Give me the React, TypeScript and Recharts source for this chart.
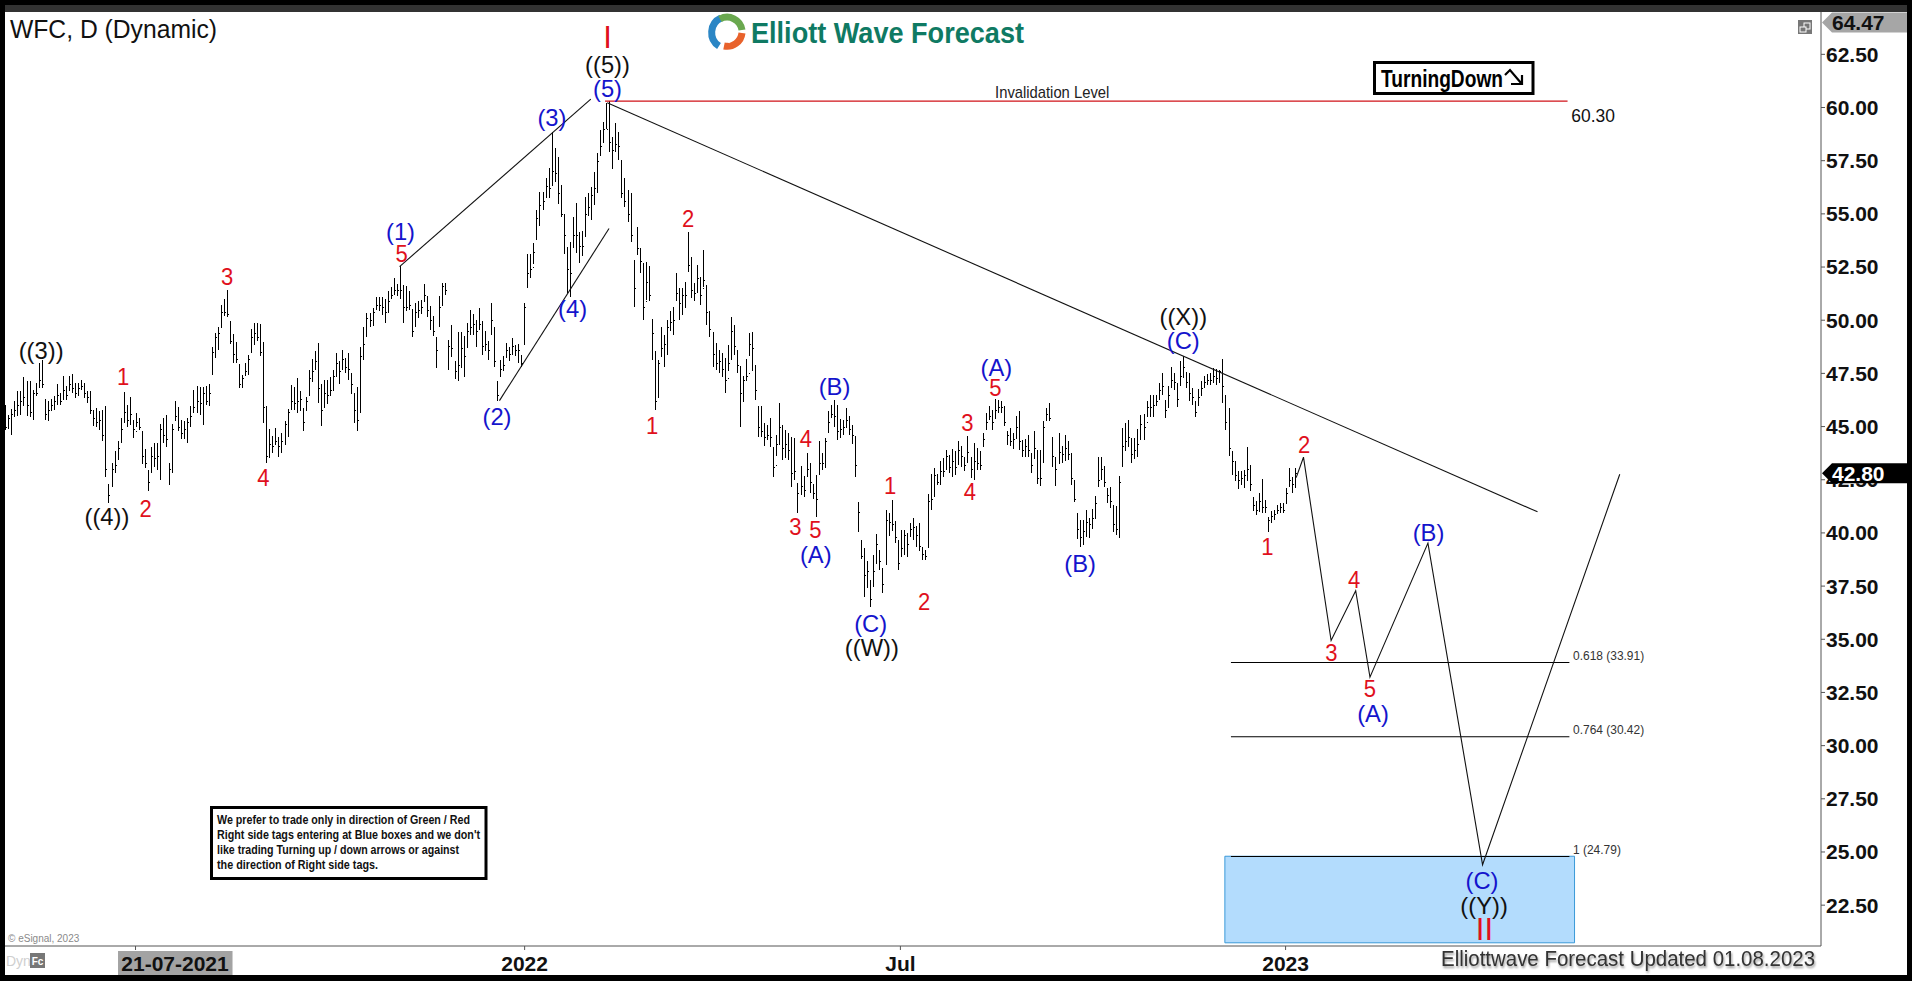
import React from "react";
import { ComposedChart, Bar, Line, XAxis, YAxis, ReferenceLine, ReferenceArea, ReferenceDot } from "recharts";

// daily bars
const highs = [
  46.02,45.55,45.82,46.21,46.65,46.65,47.32,47.12,47.12,46.73,
  47.07,47.98,48.11,46.29,46.18,46.29,46.45,47.01,46.57,47.36,
  46.89,47.36,47.47,47.07,47.07,47.17,47.04,46.65,46.65,45.79,
  45.87,45.71,45.79,45.98,42.31,43.28,43.83,44.3,45.4,46.62,
  46.02,46.38,45.32,45.63,45.4,44.8,43.94,42.97,44.06,44.22,
  44.22,45.13,45.4,45.55,43.28,45.13,46.18,45.9,45.32,45.24,
  45.4,45.99,46.73,46.89,46.85,46.85,46.89,47.01,
  48.75,49.41,49.7,50.73,51.0,51.43,
  49.97,49.36,48.97,47.95,47.43,48.01,48.37,49.58,49.86,49.86,
  49.83,48.97,45.97,44.88,44.56,44.92,44.53,44.69,45.24,45.82,
  46.96,46.88,47.28,46.68,45.87,46.37,47.67,48.18,48.53,48.92,
  47.01,47.17,47.17,47.31,47.67,48.45,48.06,48.61,48.22,48.45,
  47.51,46.6,46.85,48.73,49.67,50.36,50.36,50.57,51.08,51.08,
  51.08,50.99,51.35,51.55,51.98,51.71,52.53,51.66,51.62,51.35,
  50.52,50.8,50.88,50.96,51.71,51.12,50.68,50.18,49.2,51.12,
  51.74,51.74,49.08,
  49.78,48.06,49.44,49.44,49.26,49.89,50.49,50.28,50.01,50.56,
  49.94,49.47,49.04,50.8,49.7,47.15,48.13,48.32,48.92,48.76,
  49.15,48.84,48.89,48.37,50.8,53.12,53.12,53.65,55.19,56.05,
  56.05,56.68,57.15,58.84,58.09,57.66,56.36,54.98,53.46,53.7,
  54.87,55.5,54.17,54.2,55.78,56.0,56.25,56.99,57.85,58.92,
  59.34,60.23,60.3,58.6,59.29,58.84,57.51,56.68,56.13,55.97,
  52.84,54.4,53.39,52.68,52.76,52.55,50.05,48.53,48.13,49.7,
  49.31,50.01,50.41,50.64,
  52.21,51.5,51.5,51.82,54.17,52.99,51.74,52.6,52.05,53.3,
  51.66,50.41,49.46,48.92,48.6,48.45,48.21,48.84,50.17,49.78,
  48.6,47.83,47.36,48.17,49.39,49.46,47.9,
  45.98,45.98,45.16,45.08,45.4,44.06,44.61,46.1,45.08,44.85,
  44.69,44.53,44.46,42.34,43.16,42.69,43.78,43.28,42.31,42.73,
  44.3,43.75,44.46,45.71,46.02,46.23,46.02,45.35,45.32,45.87,
  45.5,45.08,44.58,41.45,39.68,39.28,38.66,37.8,38.97,39.94,
  39.21,38.34,41.09,40.93,41.56,40.54,39.68,
  40.15,40.15,39.99,40.46,40.7,40.33,40.46,39.36,39.21,41.82,
  42.76,43.05,42.76,43.39,43.52,43.88,43.67,43.94,43.83,44.33,
  44.07,43.59,44.57,43.59,44.22,43.99,43.83,44.69,45.63,45.95,
  45.79,46.31,46.26,46.18,45.98,44.77,44.93,44.69,45.51,45.71,
  44.38,44.41,44.61,43.75,44.8,43.91,43.91,45.24,45.87,46.1,
  44.5,43.59,44.69,44.07,44.61,44.3,43.75,42.5,40.96,40.59,
  40.59,41.09,40.7,41.12,41.75,43.56,43.56,43.16,42.11,42.15,
  41.32,41.28,42.69,44.93,
  45.16,45.32,44.46,44.46,44.89,45.55,45.6,46.21,46.49,46.49,
  46.49,47.04,47.51,46.26,46.92,47.79,47.51,47.04,48.06,48.34,
  47.56,47.51,46.81,46.18,46.76,47.12,47.39,47.48,47.51,47.75,
  47.7,47.64,48.17,46.49,45.87,43.83,43.36,42.89,42.89,42.94,
  44.06,43.2,41.68,41.48,41.9,42.53,41.56,40.73,41.01,41.09,
  41.29,41.4,41.4,42.1,43.05,42.62,43.05,
];

const lows = [
  44.82,44.88,44.61,45.47,45.5,45.55,45.95,45.5,45.44,45.29,
  46.42,46.81,46.81,45.32,45.24,45.71,45.76,46.02,46.02,46.26,
  46.26,46.65,46.57,46.34,46.42,46.73,46.34,46.1,45.6,45.04,
  45.0,44.85,44.3,42.65,41.43,42.18,42.84,43.41,44.22,45.16,
  45.0,45.08,44.46,44.97,44.82,43.25,43.05,41.95,42.84,43.09,
  42.94,42.47,44.22,44.06,42.26,42.81,45.24,44.77,44.41,44.41,
  44.25,44.97,45.66,45.66,45.55,45.08,46.02,45.99,
  47.43,48.24,48.6,49.64,50.2,50.15,
  48.89,48.01,47.98,46.81,46.81,47.39,47.43,48.45,48.84,49.0,
  48.3,45.19,43.28,43.52,43.78,44.14,43.59,43.75,44.14,44.53,
  45.79,45.79,45.66,45.71,44.81,45.71,46.45,47.09,47.67,46.13,
  45.03,45.87,46.07,46.45,46.65,47.35,47.01,47.67,47.51,47.2,
  46.54,45.19,44.81,45.66,48.14,49.2,49.7,49.74,50.49,50.41,
  50.25,49.89,50.33,50.99,51.19,51.15,50.99,49.89,50.41,50.49,
  49.19,49.67,50.1,50.3,50.88,50.14,49.52,49.24,47.73,49.7,
  50.68,51.19,47.64,
  48.29,47.23,47.16,47.74,47.35,48.68,49.31,49.31,48.73,49.55,
  48.37,48.53,48.13,49.31,47.82,46.21,47.32,47.59,48.21,48.06,
  48.37,48.32,47.98,47.82,48.84,51.5,51.97,52.65,53.78,54.43,
  55.2,55.74,55.74,56.32,56.52,55.47,54.87,53.1,51.27,51.11,
  53.39,53.18,52.71,53.0,53.93,54.91,54.69,55.42,55.97,57.73,
  58.32,58.98,57.93,57.12,57.93,57.51,55.74,55.34,54.64,53.7,
  50.64,53.07,52.21,50.02,50.96,50.92,48.13,45.78,46.33,48.29,
  47.82,48.37,49.47,49.31,
  50.88,50.01,50.25,50.56,52.29,51.03,50.88,51.27,50.72,51.58,
  49.78,49.23,47.8,47.66,47.5,47.35,46.56,47.6,48.13,48.37,
  47.5,45.0,46.17,47.12,48.33,47.59,46.23,
  44.49,44.53,44.1,44.38,44.06,42.62,43.6,44.14,43.41,43.52,
  43.44,42.18,42.5,40.93,41.79,41.68,42.65,41.87,41.59,40.74,
  42.73,42.97,43.05,44.72,45.4,45.0,44.38,44.46,44.61,44.93,
  44.61,44.19,42.62,40.02,38.77,37.01,37.4,36.54,37.48,38.55,
  38.27,37.17,38.5,39.86,40.07,39.52,38.27,
  38.89,38.97,38.89,39.83,39.68,39.36,39.13,38.74,38.74,39.28,
  41.09,41.71,42.26,42.26,42.65,42.97,42.81,42.65,42.73,43.2,
  43.09,42.89,43.28,42.58,42.5,42.97,42.97,44.02,44.85,45.32,
  44.85,45.35,45.63,45.63,45.01,44.14,44.07,43.96,44.41,43.91,
  43.56,43.56,43.56,42.81,43.52,42.31,42.22,43.31,45.24,45.24,
  43.09,42.22,43.28,43.31,43.36,43.44,42.26,41.45,39.71,39.33,
  39.44,39.83,39.75,40.18,40.65,42.15,42.5,42.18,41.4,41.17,
  40.02,39.91,39.75,43.09,
  43.83,44.06,43.28,43.47,43.56,44.38,44.38,45.44,45.44,45.44,
  45.95,46.23,46.49,45.4,45.87,46.81,46.73,45.91,46.89,47.28,
  46.81,46.21,46.02,45.43,45.95,46.42,46.81,46.96,46.96,47.04,
  46.96,47.04,46.13,44.85,43.63,42.73,42.42,42.07,42.26,42.11,
  42.42,41.98,41.01,40.82,40.98,40.96,40.93,40.02,40.46,40.62,
  40.9,40.96,40.96,41.43,42.18,41.9,42.11,
];

const opens = [
  45.6,45.0,45.3,45.6,45.8,46.1,46.0,46.6,46.9,45.8,
  46.6,47.0,47.4,46.0,45.7,45.9,46.0,46.3,46.4,46.4,
  46.6,46.8,47.1,46.9,46.5,47.0,46.9,46.6,46.3,45.7,
  45.6,45.2,45.3,44.5,42.0,42.4,43.0,43.6,44.4,45.2,
  45.9,45.4,45.2,44.8,45.3,44.7,43.7,42.8,43.0,43.8,
  43.4,43.4,45.0,44.5,43.2,43.0,45.3,45.6,45.1,44.7,
  44.6,45.2,45.8,46.1,46.3,46.1,46.6,46.2,
  47.6,48.4,49.1,49.7,50.6,51.0,
  49.5,49.2,48.4,47.8,46.9,47.5,47.6,48.6,49.6,49.4,
  49.6,48.6,45.0,43.8,44.0,44.2,44.4,43.9,44.3,44.9,
  46.0,46.6,46.6,46.0,45.6,45.9,46.8,47.3,48.0,48.6,
  46.6,45.9,46.9,46.6,46.9,47.6,47.8,47.9,48.0,47.9,
  47.3,46.5,45.9,46.0,48.4,49.5,50.1,50.0,50.6,50.8,
  50.8,50.7,50.5,51.1,51.3,51.6,51.9,51.5,50.9,51.2,
  50.3,49.9,50.5,50.5,50.9,51.0,50.5,50.0,49.1,50.0,
  51.0,51.5,48.9,
  49.2,47.8,47.5,48.0,48.9,48.9,50.0,49.5,49.8,50.0,
  49.5,48.8,48.8,49.6,49.6,46.9,47.8,47.8,48.3,48.7,
  48.5,48.5,48.7,48.2,48.9,52.0,52.6,52.5,53.9,54.9,
  55.7,55.9,56.4,56.5,57.2,56.8,55.8,54.8,53.2,52.7,
  53.8,54.8,53.7,53.2,54.0,55.4,55.2,56.4,56.4,57.9,
  58.6,59.6,59.8,58.2,58.0,58.5,57.2,56.2,55.7,55.4,
  52.5,53.8,53.2,52.0,50.9,52.2,49.8,48.0,46.9,48.4,
  48.7,48.8,49.8,49.8,
  52.0,51.3,50.8,51.3,52.9,52.6,51.5,51.5,51.9,51.5,
  51.4,50.2,49.3,48.4,48.0,48.0,47.6,47.3,48.3,49.5,
  48.3,47.7,46.5,47.9,47.5,48.8,47.6,
  45.9,44.9,44.8,44.8,44.6,43.8,43.2,45.5,44.9,44.3,
  44.3,44.0,42.7,42.2,41.9,42.2,42.8,43.1,41.9,41.8,
  42.9,43.5,43.4,44.9,45.5,45.7,45.7,44.8,44.8,45.1,
  45.4,44.7,44.5,41.2,39.5,38.9,37.7,37.8,37.5,38.8,
  39.0,38.2,38.9,40.7,40.4,40.4,39.6,
  39.1,39.4,39.8,39.9,40.4,40.1,39.8,39.2,38.9,39.4,
  41.6,41.9,42.6,42.4,43.1,43.0,43.5,43.0,43.5,43.4,
  43.9,43.4,43.4,43.4,43.1,43.5,43.4,44.2,44.9,45.4,
  45.6,45.5,45.8,46.0,45.9,44.6,44.5,44.3,44.7,45.1,
  44.2,43.8,44.2,43.6,43.5,43.8,42.6,43.5,45.5,45.8,
  44.3,43.4,43.3,43.8,43.8,44.0,43.6,42.3,40.7,40.3,
  39.9,40.3,40.5,40.4,40.9,42.4,42.8,42.9,42.0,41.8,
  41.2,41.0,40.3,43.3,
  43.9,44.2,44.2,43.6,43.8,44.6,45.3,45.2,46.0,45.7,
  46.1,46.5,46.9,46.1,45.9,46.9,47.4,47.0,47.0,47.5,
  47.5,47.0,46.6,46.1,46.1,46.5,47.0,47.1,47.3,47.2,
  47.5,47.3,47.6,46.2,45.2,43.7,43.2,42.6,42.5,42.6,
  42.8,43.0,41.5,41.1,41.1,41.5,41.1,40.5,40.6,40.8,
  41.0,41.1,41.2,41.4,42.4,42.6,42.2,
];

const closes = [
  45.0,45.4,45.6,45.8,46.0,46.2,46.4,46.0,45.7,46.6,
  46.6,47.2,47.0,45.6,45.8,46.0,46.2,46.5,46.2,46.7,
  46.5,47.0,46.8,46.6,46.8,46.9,46.6,46.4,45.8,45.4,
  45.2,45.3,44.6,43.0,41.8,43.0,43.2,44.0,44.9,45.7,
  45.3,45.6,44.9,45.2,45.0,43.6,43.3,42.4,43.6,43.5,
  43.6,44.9,44.6,44.4,43.0,44.9,45.5,45.0,44.7,44.9,
  45.2,45.5,45.9,46.2,46.1,46.6,46.2,46.6,
  48.5,49.2,49.4,50.4,50.4,50.3,
  49.0,48.4,48.2,47.0,47.3,47.6,48.2,49.2,49.4,49.2,
  48.5,45.9,43.6,44.2,44.1,44.3,44.1,44.3,45.1,45.7,
  46.2,46.1,46.2,46.3,45.2,46.2,47.3,47.6,48.1,46.8,
  45.8,46.6,46.5,46.7,47.4,48.0,47.6,48.2,47.8,47.7,
  47.0,45.8,45.3,48.3,48.9,50.1,50.0,50.4,50.7,50.7,
  50.6,50.4,50.9,51.2,51.4,51.4,51.4,50.6,50.6,50.7,
  49.5,50.4,50.5,50.6,51.2,50.5,50.0,49.5,48.6,50.6,
  51.6,51.4,48.8,
  48.7,47.6,47.9,48.7,48.3,49.5,49.7,49.8,49.5,49.8,
  48.8,48.9,48.6,50.0,48.1,46.5,47.7,47.9,48.6,48.4,
  48.8,48.6,48.6,48.0,50.6,52.2,52.4,53.2,54.8,55.4,
  55.6,56.3,56.2,57.0,56.9,56.0,55.0,54.0,52.4,52.2,
  54.0,54.0,53.5,53.5,55.0,55.3,55.9,56.2,57.5,58.2,
  59.0,59.0,58.4,58.0,58.3,58.2,56.0,55.6,55.0,54.0,
  51.5,53.4,52.8,50.6,51.8,51.2,49.4,46.2,48.0,48.7,
  48.9,49.7,49.9,50.0,
  51.3,50.8,51.2,51.2,52.6,51.4,51.3,52.0,51.2,51.9,
  50.4,49.6,48.4,48.0,48.1,47.7,47.2,48.0,49.5,48.8,
  47.9,46.6,47.2,47.4,48.9,48.7,46.7,
  45.0,44.8,44.5,44.6,44.5,43.1,44.2,45.0,44.0,44.2,
  43.9,42.8,42.9,41.9,42.2,42.0,43.0,42.4,41.9,41.6,
  43.3,43.3,44.3,45.2,45.6,45.5,44.8,44.9,45.0,45.3,
  44.9,44.6,43.2,41.0,38.9,38.0,38.2,36.9,38.2,39.5,
  38.7,37.6,40.6,40.5,40.4,39.8,38.6,
  39.3,39.9,39.5,40.2,40.3,39.9,39.4,39.0,38.9,41.5,
  41.6,42.7,42.4,42.9,42.9,43.6,43.1,43.4,43.1,43.9,
  43.6,43.2,43.8,43.0,43.4,43.3,43.2,44.4,45.2,45.5,
  45.2,45.8,45.9,45.9,45.2,44.6,44.3,44.4,45.0,44.3,
  43.9,44.1,43.9,43.2,44.0,42.6,42.6,45.0,45.6,45.4,
  43.6,43.0,43.8,43.7,44.0,43.7,42.6,41.6,40.2,39.8,
  40.1,40.5,40.4,40.7,41.4,42.5,43.0,42.4,41.8,41.5,
  40.4,40.2,42.4,44.1,
  44.3,44.5,43.7,43.9,44.2,45.1,45.0,45.9,45.9,46.0,
  46.2,46.7,46.9,45.8,46.5,47.2,47.1,46.3,47.4,47.8,
  47.1,46.6,46.4,45.7,46.4,46.8,47.1,47.2,47.2,47.4,
  47.3,47.6,46.9,45.2,44.0,43.4,42.7,42.5,42.6,42.7,
  43.0,42.3,41.3,41.1,41.5,41.2,41.2,40.6,40.8,40.9,
  41.1,41.2,41.1,41.9,42.5,42.3,42.8,
];

const bars = highs.map((h, i) => ({ i, range: [lows[i], h], open: opens[i], close: closes[i] }));

const yTicks = [22.5, 25, 27.5, 30, 32.5, 35, 37.5, 40, 42.5, 45, 47.5, 50, 52.5, 55, 57.5, 60, 62.5];
const xTicks = [42.9, 171.1, 294.9, 421.8];
const xTickLabels = ["21-07-2021", "2022", "Jul", "2023"];

// wave labels: [text, bar position, price]
const blackLabels: [string, number, number][] = [
  ["((3))", 11.8, 48.56], ["((4))", 33.5, 40.77], ["((5))", 198.4, 62.04],
  ["((W))", 285.5, 34.6], ["((X))", 388.1, 50.16], ["((Y))", 487.2, 22.48],
];
const blueLabels: [string, number, number][] = [
  ["(1)", 130.2, 54.17], ["(2)", 162, 45.5], ["(3)", 180.1, 59.55], ["(4)", 186.9, 50.57], ["(5)", 198.4, 60.91],
  ["(A)", 267, 39.0], ["(B)", 273.2, 46.88], ["(C)", 285.1, 35.77], ["(A)", 326.5, 47.79], ["(B)", 354.1, 38.58],
  ["(C)", 388.1, 49.05], ["(A)", 450.6, 31.53], ["(B)", 468.9, 40.04], ["(C)", 486.5, 23.66],
];
const redLabels: [string, number, number][] = [
  ["1", 38.8, 47.35], ["2", 46.2, 41.13], ["3", 73.1, 52.05], ["4", 85, 42.6], ["5", 130.6, 53.12],
  ["1", 213.1, 45.05], ["2", 225, 54.77], ["4", 263.8, 44.42], ["3", 260.3, 40.3], ["5", 266.9, 40.13],
  ["1", 291.5, 42.2], ["2", 302.7, 36.77], ["3", 317, 45.16], ["4", 317.8, 41.94], ["5", 326.2, 46.85],
  ["1", 415.8, 39.33], ["2", 427.9, 44.14], ["3", 436.9, 34.38], ["4", 444.4, 37.79], ["5", 449.6, 32.66],
];
const cycleLabels: [string, number, number][] = [["I", 198.4, 63.3], ["II", 487.3, 21.36]];

// projected path and trend lines
const projection = [
  { i: 425.3, v: 42.6 }, { i: 427.7, v: 43.56 }, { i: 436.8, v: 34.94 }, { i: 444.9, v: 37.28 },
  { i: 449.6, v: 33.22 }, { i: 468.7, v: 39.52 }, { i: 486.7, v: 24.4 }, { i: 531.9, v: 42.76 },
];
const upperChannel = [{ i: 129.9, v: 52.52 }, { i: 192.9, v: 60.39 }];
const lowerChannel = [{ i: 162.8, v: 46.22 }, { i: 198.9, v: 54.31 }];
const downTrend = [{ i: 198.3, v: 60.22 }, { i: 504.8, v: 40.99 }];

const fibLevels: [string, number][] = [["0.618 (33.91)", 33.91], ["0.764 (30.42)", 30.42], ["1 (24.79)", 24.79]];
const invalidation = 60.3;
const boxBottom = 20.73;
const boxTop = 24.8;
const lastPrice = 42.8;
const topPrice = 64.47;

const AXIS_FONT = "'Liberation Sans', Arial, sans-serif";

function OhlcBar(props: any) {
  const { x, y, width, height, payload } = props;
  const [lo, hi] = payload.range;
  const perUnit = height / (hi - lo);
  const cx = Math.round(x + width / 2) + 0.5;
  const openY = Math.round(y + (hi - payload.open) * perUnit) + 0.5;
  const closeY = Math.round(y + (hi - payload.close) * perUnit) + 0.5;
  return (
    <g stroke="#000" strokeWidth={1} shapeRendering="crispEdges">
      <line x1={cx} x2={cx} y1={y} y2={y + height} />
      <line x1={cx - 1} x2={cx} y1={openY} y2={openY} />
      <line x1={cx} x2={cx + 1} y1={closeY} y2={closeY} />
    </g>
  );
}

// the source picture is squeezed sideways, so the letters are drawn a little narrow
function chartText(text: string, fill: string, size: number, anchor = "middle", squeeze = 1) {
  return (p: any) => (
    <text
      transform={`translate(${p.cx} ${p.cy}) scale(${squeeze} 1)`}
      fill={fill}
      fontSize={size}
      fontFamily={AXIS_FONT}
      textAnchor={anchor}
      dominantBaseline="central"
    >
      {text}
    </text>
  );
}

function XTick({ x, y, payload }: any) {
  const idx = xTicks.indexOf(payload.value);
  if (idx === 0) {
    return (
      <g>
        <rect x={x - 17.5} y={y} width={114.5} height={24} fill="#a3a3a3" />
        <text x={x + 39.5} y={y + 12} fontSize={21} fontWeight={700} fontFamily={AXIS_FONT} fill="#111" textAnchor="middle" dominantBaseline="central">
          {xTickLabels[0]}
        </text>
      </g>
    );
  }
  return (
    <text x={x} y={y + 12} fontSize={21} fontWeight={700} fontFamily={AXIS_FONT} fill="#111" textAnchor="middle" dominantBaseline="central">
      {xTickLabels[idx]}
    </text>
  );
}

const noteLines: [string, number][] = [
  ["We prefer to trade only in direction of Green / Red", 253],
  ["Right side tags entering at Blue boxes and we don't", 263],
  ["like trading Turning up / down arrows or against", 242],
  ["the direction of Right side tags.", 161],
];

// same scale as the y axis, the tags have to sit above the tick labels
const priceY = (v: number) => 12 + ((64.49 - v) * 934) / 43.91;

function PriceTag({ cy, text, bg, fg }: any) {
  return (
    <g>
      <polygon points={`1822,${cy} 1832,${cy - 10} 1907,${cy - 10} 1907,${cy + 10} 1832,${cy + 10}`} fill={bg} />
      <text x={1832} y={cy} fontSize={21} fontWeight={700} fill={fg} dominantBaseline="central">{text}</text>
    </g>
  );
}

function Overlay() {
  return (
    <svg width={1912} height={981} style={{ position: "absolute", left: 0, top: 0, pointerEvents: "none" }} fontFamily={AXIS_FONT}>
      <text x={10} y={29} fontSize={25} fill="#111" textLength={207} lengthAdjust="spacingAndGlyphs" dominantBaseline="central">WFC, D (Dynamic)</text>

      <g fill="none" strokeWidth={7}>
        <path d="M719 46 A16 16 0 0 1 721 18" stroke="#2b86c5" />
        <path d="M720 19 A15 15 0 0 1 742 30" stroke="#6aa84f" />
        <path d="M742 33 A15 15 0 0 1 724 46" stroke="#e8622c" />
        <path d="M726 24 Q736 28 728 34 Q722 38 730 42" stroke="#fff" strokeWidth={3} />
      </g>
      <text x={751} y={33} fontSize={29} fontWeight={700} fill="#0f7a63" textLength={273} lengthAdjust="spacingAndGlyphs" dominantBaseline="central">Elliott Wave Forecast</text>

      <rect x={1374.5} y={62.5} width={158.5} height={31} fill="#fff" stroke="#000" strokeWidth={3} />
      <text x={1381} y={78} fontSize={24} fontWeight={700} fill="#000" textLength={122} lengthAdjust="spacingAndGlyphs" dominantBaseline="central">TurningDown</text>
      <path d="M1505 75 L1510 70 L1521 83 M1522 75 V84 H1511" fill="none" stroke="#000" strokeWidth={2.2} />

      <rect x={1798} y={20} width={14} height={14} fill="#777" />
      <rect x={1804} y={23} width={6} height={6} fill="none" stroke="#fff" />
      <rect x={1800} y={27} width={6} height={5} fill="#777" stroke="#fff" />

      <rect x={211.5} y={807.5} width={274.5} height={71} fill="#fff" stroke="#000" strokeWidth={3} />
      {noteLines.map(([line, w], k) => (
        <text key={k} x={217} y={819.5 + k * 15.2} fontSize={12.5} fontWeight={700} fill="#111" textLength={w} lengthAdjust="spacingAndGlyphs" dominantBaseline="central">
          {line}
        </text>
      ))}

      <text x={8} y={938} fontSize={10} fill="#8a8a8a" dominantBaseline="central">© eSignal, 2023</text>
      <text x={6} y={961} fontSize={14} fill="#cfcfcf" dominantBaseline="central">Dyn</text>
      <rect x={30} y={953} width={15} height={15} fill="#777" />
      <text x={37.5} y={961} fontSize={10} fontWeight={700} fill="#fff" textAnchor="middle" dominantBaseline="central">Fc</text>

      <text x={1441} y={958} fontSize={22} fill="#333" textLength={374} lengthAdjust="spacingAndGlyphs" dominantBaseline="central" style={{ filter: "drop-shadow(1px 2px 1px #999)" }}>
        Elliottwave Forecast Updated 01.08.2023
      </text>

      <PriceTag cy={priceY(topPrice) + 10} text={topPrice.toFixed(2)} bg="#a6a6a6" fg="#111" />
      <PriceTag cy={priceY(lastPrice)} text={lastPrice.toFixed(2)} bg="#000" fg="#fff" />
    </svg>
  );
}

export default function App() {
  return (
    <div style={{ position: "absolute", left: 0, top: 0, width: 1912, height: 981, background: "#000", overflow: "hidden" }}>
      <div style={{ position: "absolute", left: 5, top: 5, width: 1902, height: 7, background: "#333" }} />
      <div style={{ position: "absolute", left: 5, top: 12, width: 1902, height: 963, background: "#fff" }} />
      <div style={{ position: "absolute", left: 0, top: 0 }}>
        <ComposedChart width={1912} height={981} data={bars} margin={{ top: 12, right: 5, bottom: 6, left: 5 }}>
          <XAxis
            dataKey="i"
            type="number"
            scale="linear"
            domain={[-0.1, 598.2]}
            allowDataOverflow
            ticks={xTicks}
            interval={0}
            height={29}
            tickSize={4}
            tickMargin={1}
            stroke="#555"
            tick={<XTick />}
          />
          <YAxis
            orientation="right"
            type="number"
            domain={[20.58, 64.49]}
            allowDataOverflow
            ticks={yTicks}
            interval={0}
            width={86}
            tickSize={4}
            tickMargin={1}
            stroke="#555"
            tickFormatter={(v: number) => v.toFixed(2)}
            tick={{ fontSize: 21, fontWeight: 700, fontFamily: AXIS_FONT, fill: "#111" }}
          />

          <ReferenceArea x1={401.8} x2={517} y1={boxBottom} y2={boxTop} fill="#b3dcfd" fillOpacity={1} stroke="#3a99d8" strokeWidth={1} ifOverflow="visible" />

          {fibLevels.map(([name, level]) => (
            <ReferenceLine key={name} segment={[{ x: 403.8, y: level }, { x: 515.3, y: level }]} stroke="#000" strokeWidth={1.1} ifOverflow="visible" />
          ))}
          <ReferenceLine segment={[{ x: 197.6, y: invalidation }, { x: 514.7, y: invalidation }]} stroke="#d01218" strokeWidth={1.1} ifOverflow="visible" />

          <Bar dataKey="range" barSize={1} shape={<OhlcBar />} isAnimationActive={false} />

          <Line data={upperChannel} dataKey="v" stroke="#111" strokeWidth={1.1} dot={false} activeDot={false} isAnimationActive={false} />
          <Line data={lowerChannel} dataKey="v" stroke="#111" strokeWidth={1.1} dot={false} activeDot={false} isAnimationActive={false} />
          <Line data={downTrend} dataKey="v" stroke="#111" strokeWidth={1.1} dot={false} activeDot={false} isAnimationActive={false} />
          <Line data={projection} dataKey="v" stroke="#111" strokeWidth={1.1} dot={false} activeDot={false} isAnimationActive={false} />

          {blackLabels.map(([t, i, v], k) => (
            <ReferenceDot key={`k${k}`} x={i} y={v} r={0} ifOverflow="visible" shape={chartText(t, "#111", 24.5, "middle", 0.97)} />
          ))}
          {blueLabels.map(([t, i, v], k) => (
            <ReferenceDot key={`b${k}`} x={i} y={v} r={0} ifOverflow="visible" shape={chartText(t, "#1414cc", 24.5, "middle", 0.97)} />
          ))}
          {redLabels.map(([t, i, v], k) => (
            <ReferenceDot key={`r${k}`} x={i} y={v} r={0} ifOverflow="visible" shape={chartText(t, "#e0101c", 24, "middle", 0.92)} />
          ))}
          {cycleLabels.map(([t, i, v], k) => (
            <ReferenceDot key={`c${k}`} x={i} y={v} r={0} ifOverflow="visible" shape={chartText(t, "#e0101c", 31)} />
          ))}

          <ReferenceDot x={344.9} y={60.74} r={0} ifOverflow="visible" shape={chartText("Invalidation Level", "#222", 17, "middle", 0.87)} />
          <ReferenceDot x={515.9} y={59.64} r={0} ifOverflow="visible" shape={chartText("60.30", "#111", 19, "start", 0.92)} />
          <ReferenceDot x={516.5} y={34.24} r={0} ifOverflow="visible" shape={chartText(fibLevels[0][0], "#333", 13, "start", 0.92)} />
          <ReferenceDot x={516.5} y={30.76} r={0} ifOverflow="visible" shape={chartText(fibLevels[1][0], "#333", 13, "start", 0.92)} />
          <ReferenceDot x={516.5} y={25.12} r={0} ifOverflow="visible" shape={chartText(fibLevels[2][0], "#333", 13, "start", 0.92)} />
        </ComposedChart>
      </div>
      <Overlay />
    </div>
  );
}
